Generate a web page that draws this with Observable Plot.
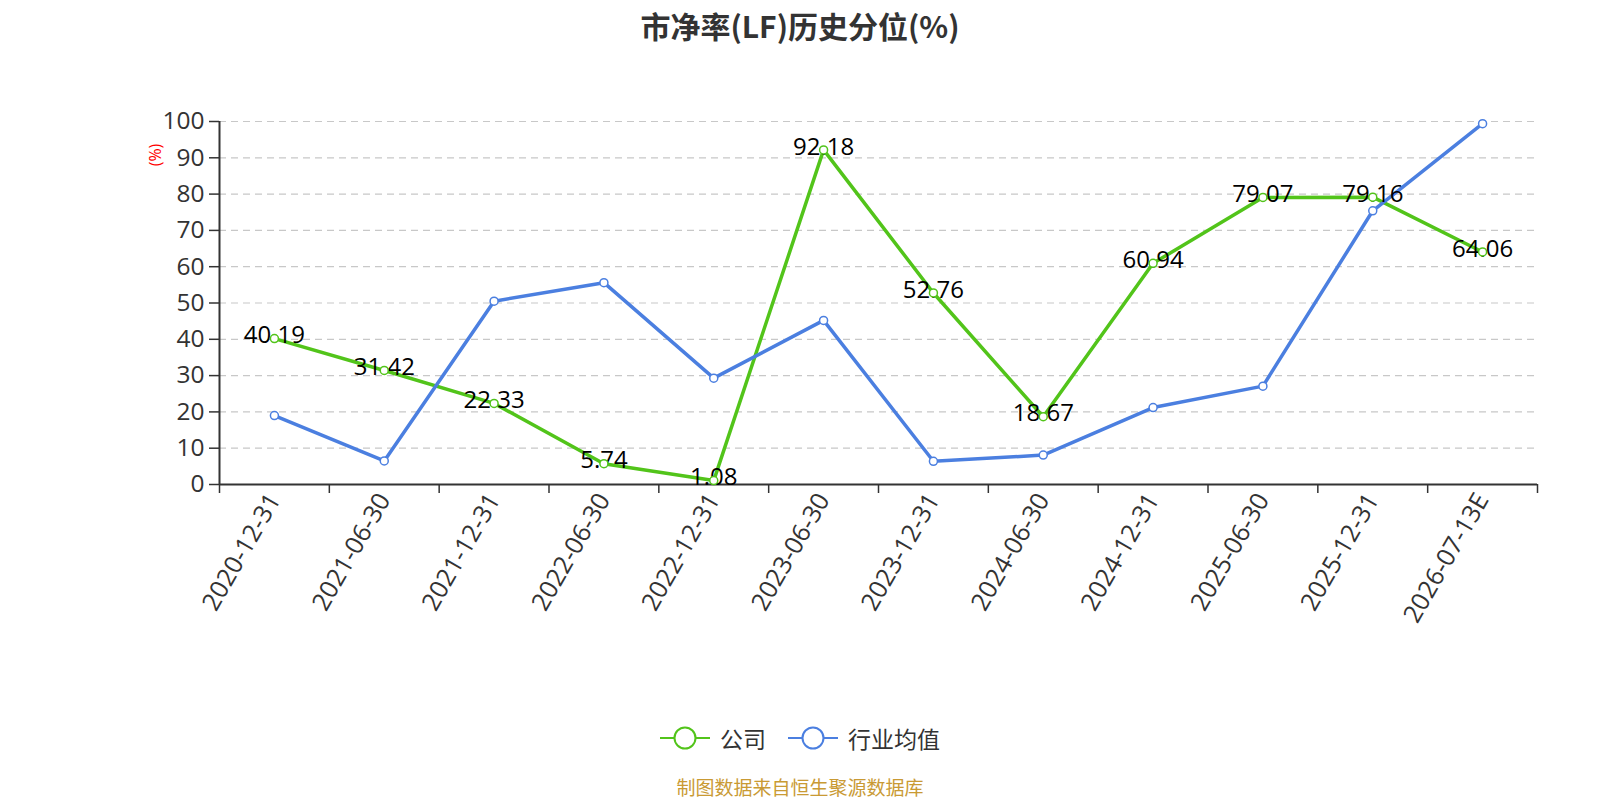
<!DOCTYPE html>
<html>
<head>
<meta charset="utf-8">
<script src="https://cdn.jsdelivr.net/npm/d3@7"></script>
<script src="https://cdn.jsdelivr.net/npm/@observablehq/plot@0.6"></script>
<style>
  html, body { margin: 0; padding: 0; background: #fff; }
  body { width: 1600px; height: 800px; position: relative; overflow: hidden;
         font-family: "Noto Sans CJK SC", "Open Sans", sans-serif; }
  #title { position: absolute; left: 0; top: 0; width: 1600px; height: 50px; line-height: 50px;
           text-align: center; font-size: 30px; font-weight: bold; color: #333; }
  #chart { position: absolute; left: 0; top: 50px; }
  #legend { position: absolute; left: 0; top: 722px; width: 1600px; height: 32px;
            display: flex; justify-content: center; align-items: center; font-size: 23px; color: #333; }
  .item { display: flex; align-items: center; margin: 0 11px; }
  .item svg { margin-right: 10px; }
  #source { position: absolute; left: 0; top: 774px; width: 1600px; height: 26px; line-height: 26px;
            text-align: center; font-size: 19px; color: #c99a34; }
</style>
</head>
<body>
<div id="title">市净率(LF)历史分位(%)</div>
<div id="chart"></div>
<div id="legend"></div>
<div id="source">制图数据来自恒生聚源数据库</div>
<script>
// ---- data ----
const categories = ["2020-12-31","2021-06-30","2021-12-31","2022-06-30","2022-12-31","2023-06-30",
                    "2023-12-31","2024-06-30","2024-12-31","2025-06-30","2025-12-31","2026-07-13E"];
const companyValues  = [40.19, 31.42, 22.33, 5.74, 1.08, 92.18, 52.76, 18.67, 60.94, 79.07, 79.16, 64.06];
const industryValues = [19.0, 6.5, 50.5, 55.6, 29.3, 45.2, 6.4, 8.1, 21.2, 27.1, 75.4, 99.4];
const yTicks = [0, 10, 20, 30, 40, 50, 60, 70, 80, 90, 100];
const seriesNames = ["公司", "行业均值"];
const seriesColors = ["#52c41a", "#4b7fe0"];

// ---- derived tables ----
const idx = categories.map((_, i) => i);
const company = idx.map(i => ({i, v: companyValues[i]}));
const industry = idx.map(i => ({i, v: industryValues[i]}));
const boundaries = [...idx.map(i => i - 0.5), categories.length - 0.5];

const font = "Open Sans, Noto Sans CJK SC, sans-serif";

const plot = Plot.plot({
  width: 1600,
  height: 640,
  marginLeft: 219,
  marginRight: 63,
  marginTop: 71,
  marginBottom: 206,
  style: {fontFamily: font, background: "transparent", overflow: "visible"},
  x: {type: "linear", domain: [-0.5, categories.length - 0.5], axis: null},
  y: {domain: [0, 100], axis: null},
  marks: [
    Plot.ruleY(yTicks.filter(t => t > 0), {stroke: "#c8c8c8", strokeWidth: 1.2, strokeDasharray: "7,5"}),
    Plot.axisY(yTicks, {anchor: "left", tickSize: 10, tickPadding: 5, fontSize: 24.5, color: "#333",
                        stroke: "#333", strokeWidth: 1.5, label: null, tickFormat: d => String(d)}),
    Plot.axisX(boundaries, {anchor: "bottom", tickSize: 9, tickFormat: () => "", stroke: "#333",
                            strokeWidth: 1.5, label: null}),
    Plot.axisX(idx, {anchor: "bottom", tickSize: 0, tickPadding: 11, tickRotate: -60, fontSize: 25,
                     color: "#333", label: null, tickFormat: i => categories[i]}),
    Plot.ruleX([-0.5], {stroke: "#333", strokeWidth: 2}),
    Plot.ruleY([0], {stroke: "#333", strokeWidth: 2}),
    Plot.line(company, {x: "i", y: "v", stroke: seriesColors[0], strokeWidth: 3.5}),
    Plot.line(industry, {x: "i", y: "v", stroke: seriesColors[1], strokeWidth: 3.5}),
    Plot.text(company, {x: "i", y: "v", text: d => d.v.toFixed(2), fontSize: 24, fill: "#000", dy: -3}),
    Plot.dot(company, {x: "i", y: "v", r: 4, fill: "#fff", stroke: seriesColors[0], strokeWidth: 1.5}),
    Plot.dot(industry, {x: "i", y: "v", r: 4, fill: "#fff", stroke: seriesColors[1], strokeWidth: 1.5})
  ]
});
document.getElementById("chart").appendChild(plot);

// red unit label on the y axis
d3.select(plot).append("text")
  .attr("transform", "translate(157,105) rotate(-90)")
  .attr("text-anchor", "middle")
  .attr("dominant-baseline", "middle")
  .attr("fill", "#ff0000")
  .attr("font-size", 16)
  .attr("font-family", font)
  .text("(%)");

// legend
const legend = d3.select("#legend");
seriesNames.forEach((name, k) => {
  const item = legend.append("div").attr("class", "item");
  const s = item.append("svg").attr("width", 50).attr("height", 26);
  s.append("line").attr("x1", 0).attr("x2", 50).attr("y1", 13).attr("y2", 13)
    .attr("stroke", seriesColors[k]).attr("stroke-width", 2);
  s.append("circle").attr("cx", 25).attr("cy", 13).attr("r", 10.5)
    .attr("fill", "#fff").attr("stroke", seriesColors[k]).attr("stroke-width", 2);
  item.append("span").text(name);
});
</script>
</body>
</html>
